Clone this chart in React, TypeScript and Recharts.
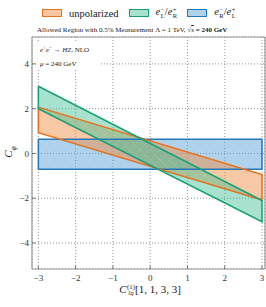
import React from 'react'
import { Area, CartesianGrid, ComposedChart, Scatter, XAxis, YAxis } from 'recharts'

// band edges at x = -3 and x = 3
const X_EDGES = [-3, 3]
const UNPOL_LO = [0.93, -2.08]
const UNPOL_HI = [2.07, -0.94]
const LR_LO = [2.0, -3.05]
const LR_HI = [3.0, -2.1]
const RL_LO = [-0.71, -0.71]
const RL_HI = [0.63, 0.63]

const X_TICKS = [-3, -2, -1, 0, 1, 2, 3]
const Y_TICKS = [-4, -2, 0, 2, 4]
const X_DOMAIN: [number, number] = [-3.17, 3.08]
const Y_DOMAIN: [number, number] = [-5.16, 5.2]

const SERIF = '"Liberation Serif", "DejaVu Serif", serif'
const FRAME = '#9a9a9a'
const TICK = '#444'
const THIN = 0.01 // axes take no room; margins place the plot

const steps = (a: number, b: number, s: number) => {
  const out: number[] = []
  for (let v = a; v <= b + 1e-9; v += s) out.push(Math.round(v * 100) / 100)
  return out
}
const X_MINOR = steps(-3, 3, 0.2)
const Y_MINOR = steps(-5, 5, 0.5)

const rows = X_EDGES.map((x, i) => ({
  x,
  unpol: [UNPOL_LO[i], UNPOL_HI[i]],
  lr: [LR_LO[i], LR_HI[i]],
  rl: [RL_LO[i], RL_HI[i]],
}))

const outline = (lo: number[], hi: number[]) => [
  { x: X_EDGES[0], y: hi[0] },
  { x: X_EDGES[1], y: hi[1] },
  { x: X_EDGES[1], y: lo[1] },
  { x: X_EDGES[0], y: lo[0] },
  { x: X_EDGES[0], y: hi[0] },
]

const SERIES = [
  { key: 'rl', fill: '#4d9bd6', op: 0.45, edge: '#2477b8', lo: RL_LO, hi: RL_HI },
  { key: 'unpol', fill: '#f08a3e', op: 0.48, edge: '#e8711c', lo: UNPOL_LO, hi: UNPOL_HI },
  { key: 'lr', fill: '#3cbf93', op: 0.45, edge: '#16a079', lo: LR_LO, hi: LR_HI },
]

const fmt = (v: number) => (v < 0 ? `\u2212${-v}` : `${v}`)
const noShape = () => <g />

function SubSup({ sub, sup }: { sub: React.ReactNode; sup: React.ReactNode }) {
  return (
    <span
      style={{
        display: 'inline-flex',
        flexDirection: 'column',
        fontSize: '0.62em',
        lineHeight: 1,
        verticalAlign: 'middle',
        marginLeft: 0.5,
      }}
    >
      <span>{sup}</span>
      <span>{sub}</span>
    </span>
  )
}

function Patch({ fill, op, edge }: { fill: string; op: number; edge: string }) {
  return (
    <span
      style={{
        display: 'inline-block',
        width: 18,
        height: 6,
        border: `1.6px solid ${edge}`,
        background: fill,
        boxShadow: `inset 0 0 0 20px rgba(255,255,255,${1 - op})`,
        marginRight: 7,
        verticalAlign: 'middle',
      }}
    />
  )
}

export default function App() {
  return (
    <div
      style={{
        position: 'absolute',
        left: 0,
        top: 0,
        width: 266,
        height: 307,
        fontFamily: SERIF,
        color: '#222',
        background: '#fff',
      }}
    >
      <ComposedChart
        width={266}
        height={307}
        data={rows}
        margin={{ top: 37, right: 1, bottom: 38, left: 32 }}
      >
        <defs>
          {SERIES.map((s) => (
            <pattern
              key={s.key}
              id={`hatch-${s.key}`}
              patternUnits="userSpaceOnUse"
              width={10}
              height={10}
            >
              <rect width={10} height={10} fill={s.fill} fillOpacity={s.op} />
              <path d="M0,0L10,10M10,0L0,10" stroke="#fff" strokeOpacity={0.12} strokeWidth={0.5} />
            </pattern>
          ))}
        </defs>
        <CartesianGrid stroke="#666" strokeDasharray="1 2" strokeWidth={0.7} />

        <XAxis
          type="number"
          dataKey="x"
          domain={X_DOMAIN}
          allowDataOverflow
          ticks={X_TICKS}
          interval={0}
          height={THIN}
          tickSize={-3.5}
          tickMargin={9}
          tickFormatter={fmt}
          tick={{ fill: '#333', fontSize: 9, fontFamily: SERIF }}
          tickLine={{ stroke: TICK, strokeWidth: 0.7 }}
          axisLine={{ stroke: FRAME, strokeWidth: 1.2 }}
        />
        <XAxis
          xAxisId="bMinor"
          type="number"
          domain={X_DOMAIN}
          allowDataOverflow
          ticks={X_MINOR}
          interval={0}
          height={THIN}
          tickSize={-2}
          tick={false}
          tickLine={{ stroke: TICK, strokeWidth: 0.5 }}
          axisLine={false}
        />
        <XAxis
          xAxisId="top"
          orientation="top"
          type="number"
          domain={X_DOMAIN}
          allowDataOverflow
          ticks={X_TICKS}
          interval={0}
          height={THIN}
          tickSize={-3.5}
          tick={false}
          tickLine={{ stroke: TICK, strokeWidth: 0.7 }}
          axisLine={{ stroke: FRAME, strokeWidth: 1.2 }}
        />
        <XAxis
          xAxisId="tMinor"
          orientation="top"
          type="number"
          domain={X_DOMAIN}
          allowDataOverflow
          ticks={X_MINOR}
          interval={0}
          height={THIN}
          tickSize={-2}
          tick={false}
          tickLine={{ stroke: TICK, strokeWidth: 0.5 }}
          axisLine={false}
        />

        <YAxis
          type="number"
          domain={Y_DOMAIN}
          allowDataOverflow
          ticks={Y_TICKS}
          interval={0}
          width={THIN}
          tickSize={-3.5}
          tickMargin={6.5}
          tickFormatter={fmt}
          tick={{ fill: '#333', fontSize: 9, fontFamily: SERIF }}
          tickLine={{ stroke: TICK, strokeWidth: 0.7 }}
          axisLine={{ stroke: FRAME, strokeWidth: 1.2 }}
        />
        <YAxis
          yAxisId="lMinor"
          type="number"
          domain={Y_DOMAIN}
          allowDataOverflow
          ticks={Y_MINOR}
          interval={0}
          width={THIN}
          tickSize={-2}
          tick={false}
          tickLine={{ stroke: TICK, strokeWidth: 0.5 }}
          axisLine={false}
        />
        <YAxis
          yAxisId="right"
          orientation="right"
          type="number"
          domain={Y_DOMAIN}
          allowDataOverflow
          ticks={Y_TICKS}
          interval={0}
          width={THIN}
          tickSize={-3.5}
          tick={false}
          tickLine={{ stroke: TICK, strokeWidth: 0.7 }}
          axisLine={{ stroke: FRAME, strokeWidth: 1.2 }}
        />
        <YAxis
          yAxisId="rMinor"
          orientation="right"
          type="number"
          domain={Y_DOMAIN}
          allowDataOverflow
          ticks={Y_MINOR}
          interval={0}
          width={THIN}
          tickSize={-2}
          tick={false}
          tickLine={{ stroke: TICK, strokeWidth: 0.5 }}
          axisLine={false}
        />

        {SERIES.flatMap((s) => [
          <Area
            key={`${s.key}-fill`}
            dataKey={s.key}
            type="linear"
            stroke="none"
            fill={`url(#hatch-${s.key})`}
            fillOpacity={1}
            isAnimationActive={false}
          />,
          <Scatter
            key={`${s.key}-edge`}
            data={outline(s.lo, s.hi)}
            dataKey="y"
            line={{ stroke: s.edge, strokeWidth: 1.5 }}
            lineType="joint"
            shape={noShape}
            isAnimationActive={false}
          />,
        ])}
      </ComposedChart>

      {/* legend */}
      <div
        style={{
          position: 'absolute',
          left: 42,
          top: 5,
          fontSize: 10.5,
          whiteSpace: 'nowrap',
          display: 'flex',
          alignItems: 'center',
          height: 16,
        }}
      >
        <Patch fill={SERIES[1].fill} op={SERIES[1].op} edge={SERIES[1].edge} />
        <span style={{ marginRight: 10 }}>unpolarized</span>
        <Patch fill={SERIES[2].fill} op={SERIES[2].op} edge={SERIES[2].edge} />
        <span style={{ marginRight: 10 }}>
          <i>e</i>
          <SubSup sup={'\u2212'} sub="L" />/<i>e</i>
          <SubSup sup="+" sub="R" />
        </span>
        <Patch fill={SERIES[0].fill} op={SERIES[0].op} edge={SERIES[0].edge} />
        <span>
          <i>e</i>
          <SubSup sup={'\u2212'} sub="R" />/<i>e</i>
          <SubSup sup="+" sub="L" />
        </span>
      </div>

      {/* title */}
      <div
        style={{
          position: 'absolute',
          left: 37,
          top: 26,
          fontSize: 7,
          whiteSpace: 'nowrap',
          lineHeight: '9px',
        }}
      >
        Allowed Region with 0.5% Measurement &Lambda; = 1 TeV,{' '}
        <span>&radic;</span>
        <span style={{ textDecoration: 'overline' }}>s</span> <b>= 240 GeV</b>
      </div>

      {/* process annotation */}
      <div
        style={{
          position: 'absolute',
          left: 38,
          top: 41,
          width: 60,
          height: 28,
          background: '#fff',
          fontSize: 7,
          lineHeight: '14px',
          paddingLeft: 2,
          whiteSpace: 'nowrap',
        }}
      >
        <div>
          <i>e</i>
          <sup style={{ fontSize: '0.7em' }}>+</sup>
          <i>e</i>
          <sup style={{ fontSize: '0.7em' }}>{'\u2212'}</sup> &rarr; <i>HZ</i>, NLO
        </div>
        <div>
          <i>&mu;</i> = 240 GeV
        </div>
      </div>

      {/* axis titles */}
      <div
        style={{
          position: 'absolute',
          left: 0,
          top: 283,
          width: 300,
          textAlign: 'center',
          fontSize: 11,
          whiteSpace: 'nowrap',
        }}
      >
        <i>C</i>
        <SubSup sup="(1)" sub={<i>lq</i>} />[1, 1, 3, 3]
      </div>
      <div
        style={{
          position: 'absolute',
          left: 10,
          top: 152,
          fontSize: 11,
          transform: 'translate(-50%, -50%) rotate(-90deg)',
          whiteSpace: 'nowrap',
        }}
      >
        <i>C</i>
        <sub style={{ fontSize: '0.7em' }}>
          <i>&phi;</i>
        </sub>
      </div>
    </div>
  )
}
